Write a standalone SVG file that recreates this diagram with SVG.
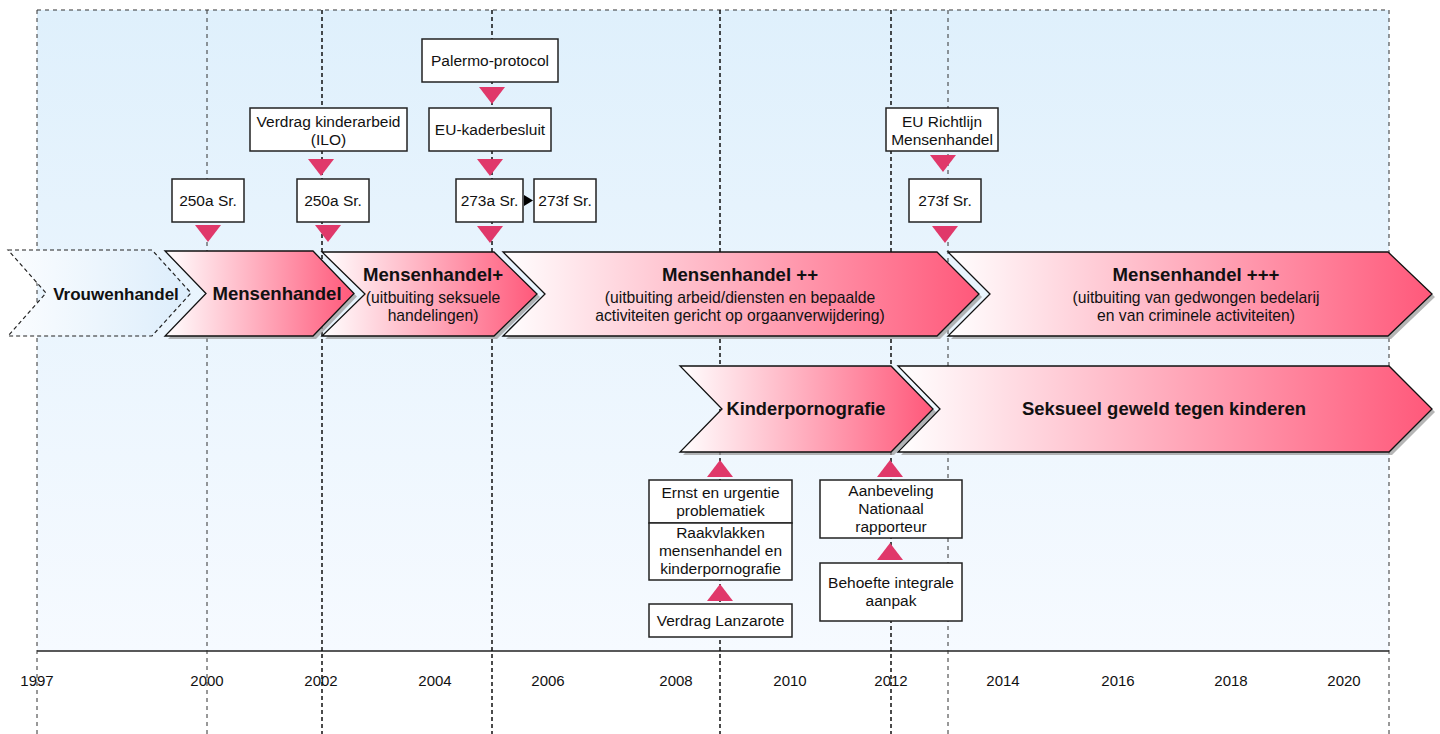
<svg xmlns="http://www.w3.org/2000/svg" width="1440" height="734" viewBox="0 0 1440 734">
<defs>
  <linearGradient id="bg" x1="0" y1="0" x2="0" y2="1">
    <stop offset="0" stop-color="#dff0fc"/>
    <stop offset="1" stop-color="#f6faff"/>
  </linearGradient>
  <linearGradient id="pink" x1="0" y1="0" x2="1" y2="0">
    <stop offset="0" stop-color="#ffffff"/>
    <stop offset="1" stop-color="#ff587a"/>
  </linearGradient>
  <linearGradient id="pale" x1="0" y1="0" x2="1" y2="0">
    <stop offset="0" stop-color="#fbfdff"/>
    <stop offset="1" stop-color="#dcedfb"/>
  </linearGradient>
  <style>
    .lite{stroke:#333;stroke-width:1;stroke-dasharray:4 4;fill:none}
    .dark{stroke:#111;stroke-width:1.5;stroke-dasharray:4 3;fill:none}
    .chev{fill:url(#pink);stroke:#111;stroke-width:1.3}
    .shadow{fill:#9c9c9c;opacity:.75}
    .box{fill:#fff;stroke:#222;stroke-width:1.5}
    .tri{fill:#e0386a}
    text{font-family:"Liberation Sans",Arial,sans-serif;fill:#111;text-anchor:middle}
    .t{font-size:15.5px}
    .s{font-size:15.7px}
    .h{font-size:18.6px;font-weight:bold}
    .y{font-size:15px}
  </style>
</defs>

<!-- background panel -->
<rect x="37" y="10" width="1352" height="641" fill="url(#bg)"/>
<line x1="37" y1="10" x2="1389" y2="10" class="lite"/>
<line x1="37" y1="651" x2="1389" y2="651" stroke="#222" stroke-width="1.3"/>

<!-- time grid -->
<g id="grid">
  <line x1="37" y1="10" x2="37" y2="734" class="lite"/>
  <line x1="207" y1="10" x2="207" y2="734" class="lite"/>
  <line x1="322" y1="10" x2="322" y2="734" class="dark"/>
  <line x1="492" y1="10" x2="492" y2="734" class="dark"/>
  <line x1="720" y1="10" x2="720" y2="734" class="dark"/>
  <line x1="891" y1="10" x2="891" y2="734" class="dark"/>
  <line x1="948" y1="10" x2="948" y2="734" class="lite"/>
  <line x1="1389" y1="10" x2="1389" y2="734" class="lite"/>
</g>

<!-- years -->
<g id="years">
  <text x="37" y="686" class="y">1997</text>
  <text x="207" y="686" class="y">2000</text>
  <text x="321" y="686" class="y">2002</text>
  <text x="435" y="686" class="y">2004</text>
  <text x="548" y="686" class="y">2006</text>
  <text x="676" y="686" class="y">2008</text>
  <text x="790" y="686" class="y">2010</text>
  <text x="891" y="686" class="y">2012</text>
  <text x="1003" y="686" class="y">2014</text>
  <text x="1118" y="686" class="y">2016</text>
  <text x="1231" y="686" class="y">2018</text>
  <text x="1344" y="686" class="y">2020</text>
</g>

<!-- chevrons row 1 -->
<g id="vrouwenhandel">
  <polygon points="8,250 152,250 191,293 152,336 8,336 46,293" fill="url(#pale)" stroke="#222" stroke-width="1.2" stroke-dasharray="4 3"/>
  <text x="116" y="300" style="font-size:17px;font-weight:bold">Vrouwenhandel</text>
</g>
<g id="mensenhandel">
  <polygon class="shadow" points="168,254 316,254 357,296.5 316,339 168,339 209,296.5"/>
  <polygon class="chev" points="165,251 313,251 354,293.5 313,336 165,336 206,293.5"/>
  <text x="277" y="300" class="h">Mensenhandel</text>
</g>
<g id="mensenhandel1">
  <polygon class="shadow" points="325,255 497,255 540,297 497,339 325,339 368,297"/>
  <polygon class="chev" points="322,252 494,252 537,294 494,336 322,336 365,294"/>
  <text x="433" y="281" class="h">Mensenhandel+</text>
  <text x="433" y="303" class="s">(uitbuiting seksuele</text>
  <text x="433" y="321" class="s">handelingen)</text>
</g>
<g id="mensenhandel2">
  <polygon class="shadow" points="506,255 940,255 982,297 940,339 506,339 548,297"/>
  <polygon class="chev" points="503,252 937,252 979,294 937,336 503,336 545,294"/>
  <text x="740" y="281" class="h">Mensenhandel ++</text>
  <text x="740" y="303" class="s">(uitbuiting arbeid/diensten en bepaalde</text>
  <text x="740" y="321" class="s">activiteiten gericht op orgaanverwijdering)</text>
</g>
<g id="mensenhandel3">
  <polygon class="shadow" points="951,255 1391,255 1435,297 1391,339 951,339 993,297"/>
  <polygon class="chev" points="948,252 1388,252 1432,294 1388,336 948,336 990,294"/>
  <text x="1196" y="281" class="h">Mensenhandel +++</text>
  <text x="1196" y="303" class="s">(uitbuiting van gedwongen bedelarij</text>
  <text x="1196" y="321" class="s">en van criminele activiteiten)</text>
</g>

<!-- chevrons row 2 -->
<g id="kinderpornografie">
  <polygon class="shadow" points="683,369 894,369 936,412 894,455 683,455 725,412"/>
  <polygon class="chev" points="680,366 891,366 933,409 891,452 680,452 722,409"/>
  <text x="806" y="415" class="h" textLength="159" lengthAdjust="spacingAndGlyphs">Kinderpornografie</text>
</g>
<g id="seksueel">
  <polygon class="shadow" points="901,369 1392,369 1435,412 1392,455 901,455 943,412"/>
  <polygon class="chev" points="898,366 1389,366 1432,409 1389,452 898,452 940,409"/>
  <text x="1164" y="415" class="h" textLength="284" lengthAdjust="spacingAndGlyphs">Seksueel geweld tegen kinderen</text>
</g>

<!-- connectors (arrowheads along the time lines) -->
<g id="connectors">
  <polygon class="tri" points="195,225 221,225 208,242"/>
  <polygon class="tri" points="308,159 334,159 321,176"/>
  <polygon class="tri" points="315,225 341,225 328,242"/>
  <polygon class="tri" points="479,87 505,87 492,104"/>
  <polygon class="tri" points="477,159 503,159 490,176"/>
  <polygon class="tri" points="477,226 503,226 490,243"/>
  <polygon class="tri" points="930,155 956,155 943,172"/>
  <polygon class="tri" points="932,226 958,226 945,243"/>
  <polygon points="524,195 533,200.5 524,206" fill="#000"/>
  <polygon class="tri" points="707,477 733,477 720,460"/>
  <polygon class="tri" points="707,601 733,601 720,584"/>
  <polygon class="tri" points="877,477 903,477 890,460"/>
  <polygon class="tri" points="877,560 903,560 890,543"/>
</g>

<!-- event boxes -->
<g id="b250a-2000"><rect class="box" x="172" y="179" width="72" height="43"/><text x="208" y="206" class="t">250a Sr.</text></g>
<g id="verdrag-kinderarbeid"><rect class="box" x="250" y="108" width="157" height="43"/><text x="328.5" y="127" class="t">Verdrag kinderarbeid</text><text x="328.5" y="145" class="t">(ILO)</text></g>
<g id="b250a-2002"><rect class="box" x="297" y="179" width="72" height="43"/><text x="333" y="206" class="t">250a Sr.</text></g>
<g id="palermo"><rect class="box" x="422" y="39" width="136" height="43"/><text x="490" y="66" class="t">Palermo-protocol</text></g>
<g id="eu-kaderbesluit"><rect class="box" x="429" y="108" width="122" height="43"/><text x="490" y="135" class="t">EU-kaderbesluit</text></g>
<g id="b273a"><rect class="box" x="456" y="179" width="67" height="43"/><text x="489.5" y="206" class="t">273a Sr.</text></g>
<g id="b273f-2005"><rect class="box" x="534" y="179" width="62" height="43"/><text x="565" y="206" class="t">273f Sr.</text></g>
<g id="eu-richtlijn"><rect class="box" x="886" y="108" width="112" height="43"/><text x="942" y="127" class="t">EU Richtlijn</text><text x="942" y="145" class="t">Mensenhandel</text></g>
<g id="b273f-2013"><rect class="box" x="909" y="179" width="72" height="43"/><text x="945" y="206" class="t">273f Sr.</text></g>
<g id="ernst"><rect class="box" x="649" y="480" width="143" height="43"/><text x="720.5" y="498" class="t">Ernst en urgentie</text><text x="720.5" y="516" class="t">problematiek</text></g>
<g id="raakvlakken"><rect class="box" x="649" y="523" width="143" height="57"/><text x="720.5" y="538" class="t">Raakvlakken</text><text x="720.5" y="556" class="t">mensenhandel en</text><text x="720.5" y="574" class="t">kinderpornografie</text></g>
<g id="lanzarote"><rect class="box" x="649" y="604" width="143" height="33"/><text x="720.5" y="626" class="t">Verdrag Lanzarote</text></g>
<g id="aanbeveling"><rect class="box" x="820" y="480" width="142" height="58"/><text x="891" y="496" class="t">Aanbeveling</text><text x="891" y="514" class="t">Nationaal</text><text x="891" y="532" class="t">rapporteur</text></g>
<g id="behoefte"><rect class="box" x="820" y="563" width="142" height="58"/><text x="891" y="588" class="t">Behoefte integrale</text><text x="891" y="606" class="t">aanpak</text></g>
</svg>
